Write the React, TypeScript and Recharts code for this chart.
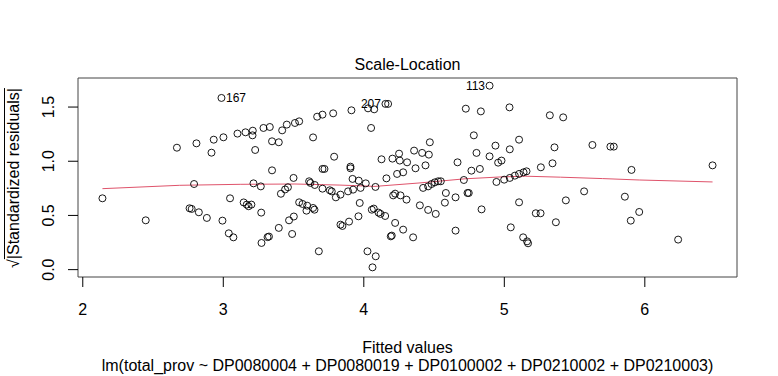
import { ComposedChart, Scatter, Line, XAxis, YAxis, ReferenceArea } from 'recharts';

// fitted values and sqrt(|standardized residuals|)
const fitted = [
  2.14, 2.448, 2.67, 2.987, 2.809, 2.916, 2.932, 3.001, 3.101, 3.158,
  3.21, 3.208, 3.286, 3.331, 3.347, 3.395, 3.419, 3.452, 3.51, 3.54,
  3.227, 3.347, 2.792, 3.215, 3.267, 3.5, 3.44, 3.46, 3.41, 3.048,
  2.76, 2.775, 2.826, 2.883, 2.994, 3.145, 3.167, 3.2, 3.18, 3.27,
  3.039, 3.072, 3.272, 3.315, 3.325, 3.395, 3.468, 3.49, 3.502,
  3.668, 3.706, 3.782, 3.912,
  4.03, 4.074, 4.154,
  4.173, 4.052, 3.639, 3.789, 4.126, 4.204, 4.251, 4.256, 4.308,
  3.905, 3.905, 3.706, 3.72, 3.611, 3.62, 3.651, 3.706, 3.758, 3.772,
  3.801, 3.834, 3.888, 3.924, 3.92, 3.964, 3.977, 4.014, 4.083, 4.161,
  4.237, 4.28, 4.209, 4.223, 4.261, 4.304, 3.971, 3.962, 3.895, 3.834,
  3.848, 4.057, 4.071, 4.105, 4.119, 4.152, 4.223, 4.28, 4.192, 4.199,
  3.54, 3.564, 3.597, 3.592, 3.649, 3.639, 3.68, 4.026, 4.085, 4.062,
  4.895, 4.726, 4.833, 5.037, 4.783, 5.105, 4.47, 4.358, 4.415, 4.463,
  4.368, 4.439, 4.802, 4.937, 4.895, 4.956, 4.98, 5.039, 4.667, 4.766, 4.826, 4.712,
  4.422, 4.458, 4.482, 4.505, 4.529, 4.548, 4.584, 4.653, 4.738, 4.747,
  4.577, 4.399, 4.458, 4.512, 4.838, 4.944, 4.999, 5.039, 5.075, 5.105, 5.137, 5.158,
  5.105, 4.653, 5.046, 4.351, 5.134, 5.162, 5.169,
  5.324, 5.419, 5.357, 5.627, 5.755, 5.779, 5.343, 5.26, 5.905, 5.568,
  5.438, 5.858, 5.224, 5.258, 5.367, 5.9, 5.96, 6.482, 6.237,
];

const sqrtStdRes = [
  0.658, 0.455, 1.125, 1.584, 1.165, 1.079, 1.199, 1.221, 1.255, 1.267,
  1.282, 1.239, 1.307, 1.316, 1.184, 1.175, 1.285, 1.338, 1.353, 1.368,
  1.104, 0.916, 0.79, 0.796, 0.768, 0.846, 0.74, 0.76, 0.7, 0.658,
  0.566, 0.56, 0.529, 0.477, 0.452, 0.62, 0.6, 0.6, 0.585, 0.526,
  0.335, 0.298, 0.246, 0.3, 0.305, 0.385, 0.455, 0.329, 0.49,
  1.411, 1.43, 1.442, 1.47,
  1.488, 1.479, 1.529,
  1.529, 1.307, 1.22, 1.042, 1.018, 1.024, 1.07, 1.006, 0.99,
  0.95, 0.935, 0.929, 0.929, 0.815, 0.8, 0.781, 0.747, 0.732, 0.722,
  0.667, 0.692, 0.722, 0.738, 0.837, 0.821, 0.754, 0.796, 0.763, 0.842,
  0.883, 0.898, 0.685, 0.701, 0.685, 0.646, 0.615, 0.492, 0.443, 0.415,
  0.403, 0.553, 0.563, 0.526, 0.514, 0.495, 0.431, 0.369, 0.307, 0.314,
  0.621, 0.606, 0.59, 0.544, 0.553, 0.569, 0.169, 0.169, 0.123, 0.021,
  1.697, 1.485, 1.46, 1.497, 1.239, 1.199, 1.175, 1.098, 1.077, 1.061,
  0.935, 0.962, 1.077, 1.144, 1.045, 0.987, 1.006, 1.11, 0.99, 0.913, 0.929, 0.827,
  0.754, 0.768, 0.79, 0.805, 0.815, 0.815, 0.707, 0.667, 0.707, 0.707,
  0.618, 0.593, 0.551, 0.514, 0.556, 0.809, 0.83, 0.846, 0.867, 0.883, 0.898, 0.907,
  0.621, 0.36, 0.39, 0.298, 0.298, 0.261, 0.243,
  1.424, 1.405, 1.128, 1.15, 1.135, 1.135, 0.981, 0.944, 0.92, 0.722,
  0.639, 0.673, 0.52, 0.52, 0.437, 0.452, 0.532, 0.962, 0.277,
];

// observations flagged with their row names
const idIndex = [3, 55, 115];
const idText = ['167', '207', '113'];

// lowess smoother
const smoothX = [2.14, 2.69, 3.12, 3.51, 3.83, 4.08, 4.4, 4.72, 4.97, 5.15, 5.4, 5.7, 5.96, 6.482];
const smoothY = [0.747, 0.778, 0.787, 0.79, 0.78, 0.768, 0.8, 0.838, 0.855, 0.862, 0.853, 0.84, 0.827, 0.809];

const xTicks = [2, 3, 4, 5, 6];
const yTicks = [0, 0.5, 1, 1.5];
const xDomain = [1.966, 6.656];
const yDomain = [-0.068, 1.768];

const points = fitted.map((x, i) => {
  const k = idIndex.indexOf(i);
  return { x, y: sqrtStdRes[i], id: k >= 0 ? idText[k] : null };
});
const smooth = smoothX.map((x, i) => ({ x, y: smoothY[i] }));

const font = '"Liberation Sans", Arial, sans-serif';

function Dot(props: any) {
  const { cx, cy, payload } = props;
  const left = payload.x > 3.5;
  return <g>
    <circle cx={cx} cy={cy} r={3.5} fill="none" stroke="#000" strokeWidth={0.9} />
    {payload.id && <text x={left ? cx - 4.5 : cx + 4.5} y={cy} textAnchor={left ? 'end' : 'start'}
      dominantBaseline="central" fontSize={12} fontFamily={font} fill="#000">{payload.id}</text>}
  </g>;
}

function XTick(props: any) {
  const { x, payload } = props;
  return <text x={x} y={309} textAnchor="middle" dominantBaseline="central" fontSize={16} fontFamily={font} fill="#000">
    {payload.value}
  </text>;
}

function YTick(props: any) {
  const { y, payload } = props;
  return <text x={49} y={y} transform={`rotate(-90 49 ${y})`} textAnchor="middle" dominantBaseline="central"
    fontSize={16} fontFamily={font} fill="#000">
    {Number(payload.value).toFixed(1)}
  </text>;
}

const label = { position: 'absolute' as const, fontFamily: font, fontSize: 16, lineHeight: 1, whiteSpace: 'nowrap' as const, transform: 'translate(-50%, -50%)', color: '#000' };

export default function App() {
  return <div style={{ position: 'absolute', left: 0, top: 0, width: 778, height: 376, background: '#fff' }}>
    <ComposedChart width={778} height={376} margin={{ top: 78, right: 41, left: 38, bottom: 69 }}>
      <XAxis type="number" dataKey="x" domain={xDomain} ticks={xTicks} allowDataOverflow
        axisLine={false} tickSize={10} tickLine={{ stroke: '#000' }} tick={<XTick />} height={30} />
      <YAxis type="number" dataKey="y" domain={yDomain} ticks={yTicks} allowDataOverflow
        axisLine={false} tickSize={10} tickLine={{ stroke: '#000' }} tick={<YTick />} width={40} />
      <ReferenceArea x1={xDomain[0]} x2={xDomain[1]} y1={yDomain[0]} y2={yDomain[1]}
        fill="none" fillOpacity={0} stroke="#444" strokeOpacity={1} strokeWidth={1} />
      <Scatter data={points} dataKey="y" shape={Dot} isAnimationActive={false} />
      <Line data={smooth} dataKey="y" type="linear" stroke="#DF536B" strokeWidth={1} dot={false} activeDot={false} isAnimationActive={false} />
    </ComposedChart>
    <div style={{ ...label, left: 407.5, top: 65 }}>Scale-Location</div>
    <div style={{ ...label, left: 407.5, top: 348 }}>Fitted values</div>
    <div style={{ ...label, left: 407.5, top: 366 }}>lm(total_prov ~ DP0080004 + DP0080019 + DP0100002 + DP0210002 + DP0210003)</div>
    <div style={{ ...label, left: 14, top: 177.5, transform: 'translate(-50%, -50%) rotate(-90deg)' }}>
      √<span style={{ textDecoration: 'overline' }}>|Standardized residuals|</span>
    </div>
  </div>;
}
